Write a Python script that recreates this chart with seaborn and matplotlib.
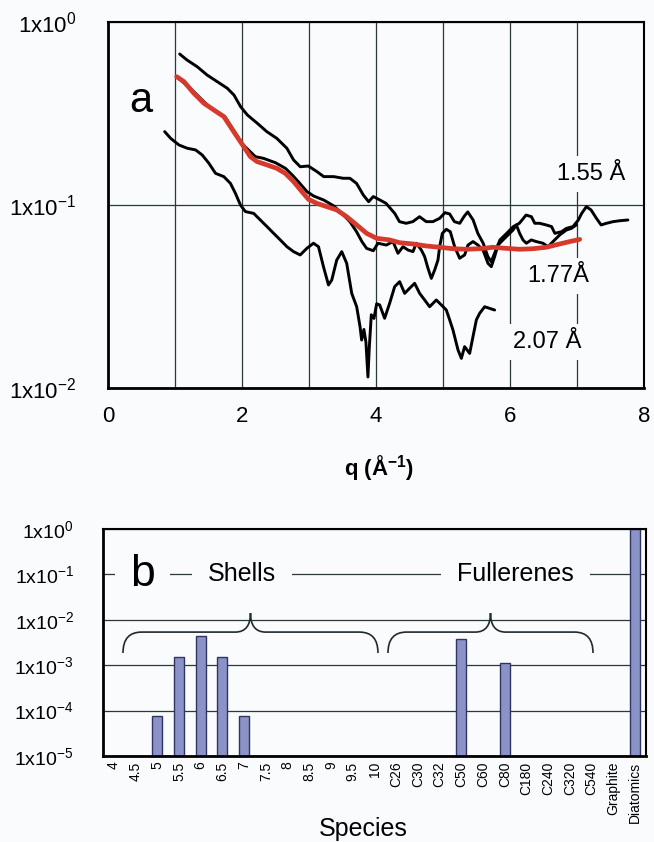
import numpy as np
import pandas as pd
import matplotlib
matplotlib.use("Agg")
import matplotlib.pyplot as plt
from matplotlib.path import Path
from matplotlib.patches import PathPatch
from matplotlib.ticker import NullLocator
import seaborn as sns

# ---- panel a: q (1/A) and log10 of intensity ----
q_155 = [1.07, 1.18, 1.33, 1.48, 1.63, 1.78, 1.88, 1.98, 2.08, 2.23, 2.37, 2.52, 2.67, 2.77, 2.87,
         2.99, 3.12, 3.22, 3.37, 3.51, 3.61, 3.71, 3.81, 3.89, 3.96,
         4.06, 4.15, 4.28, 4.35, 4.45, 4.55, 4.65, 4.75, 4.85, 4.95, 5.03, 5.10, 5.17, 5.25, 5.32,
         5.37, 5.45, 5.52, 5.60, 5.67, 5.72, 5.77, 5.85, 5.95, 6.05, 6.14, 6.24, 6.32, 6.37, 6.44,
         6.54, 6.62, 6.67, 6.77, 6.84, 6.94, 7.02, 7.07, 7.14, 7.21, 7.29, 7.36, 7.44, 7.54, 7.64, 7.76]
logI_155 = [-0.175, -0.208, -0.244, -0.290, -0.326, -0.362, -0.399, -0.463, -0.508, -0.554, -0.599,
            -0.636, -0.690, -0.754, -0.791, -0.787, -0.818, -0.845, -0.845, -0.854, -0.854, -0.882,
            -0.945, -0.982, -0.954,
            -0.973, -0.991, -1.046, -1.091, -1.100, -1.091, -1.064, -1.091, -1.091, -1.073, -1.042,
            -1.049, -1.091, -1.100, -1.060, -1.038, -1.082, -1.155, -1.209, -1.282, -1.310, -1.264,
            -1.191, -1.155, -1.118, -1.100, -1.055, -1.064, -1.100, -1.100, -1.109, -1.118, -1.155,
            -1.146, -1.128, -1.118, -1.082, -1.046, -1.009, -1.027, -1.073, -1.109, -1.100, -1.091,
            -1.086, -1.082]

q_177 = [1.03, 1.25, 1.50, 1.75, 2.00, 2.20, 2.32, 2.50, 2.65, 2.75, 2.84, 2.97, 3.07, 3.22, 3.37,
         3.49, 3.61, 3.71, 3.79, 3.86, 3.96, 4.03,
         4.154, 4.254, 4.328, 4.403, 4.478, 4.552, 4.602, 4.677, 4.726, 4.776, 4.826, 4.876, 4.925,
         4.950, 4.990, 5.050, 5.109, 5.174, 5.249, 5.323, 5.373, 5.448, 5.522, 5.597, 5.672, 5.721,
         5.771, 5.821, 5.896, 5.970, 6.045, 6.095, 6.144, 6.194, 6.244, 6.318, 6.393, 6.493, 6.567,
         6.642, 6.741, 6.841, 6.915, 6.990]
logI_177 = [-0.30, -0.37, -0.46, -0.52, -0.665, -0.736, -0.745, -0.769, -0.800, -0.836, -0.872,
            -0.927, -0.951, -0.973, -1.005, -1.046, -1.091, -1.146, -1.200, -1.237, -1.250, -1.209,
            -1.219, -1.200, -1.264, -1.228, -1.246, -1.255, -1.209, -1.246, -1.282, -1.346, -1.401,
            -1.355, -1.301, -1.228, -1.155, -1.133, -1.146, -1.228, -1.291, -1.273, -1.219, -1.200,
            -1.219, -1.246, -1.319, -1.337, -1.282, -1.219, -1.191, -1.164, -1.137, -1.109, -1.155,
            -1.191, -1.209, -1.191, -1.200, -1.209, -1.228, -1.200, -1.164, -1.137, -1.128, -1.109]

q_207 = [0.846, 0.936, 1.059, 1.183, 1.307, 1.407, 1.506, 1.605, 1.729, 1.828, 1.902, 1.977, 2.051,
         2.175, 2.274, 2.373, 2.473, 2.572, 2.671, 2.770, 2.869, 2.968, 3.067, 3.142, 3.216, 3.291,
         3.340, 3.414, 3.489, 3.563, 3.638, 3.712, 3.762, 3.786,
         3.82, 3.85, 3.88, 3.90, 3.93, 3.97, 4.01,
         4.055, 4.129, 4.204, 4.279, 4.353, 4.428, 4.502, 4.577, 4.652, 4.726, 4.801, 4.900, 4.975,
         5.050, 5.100, 5.149, 5.224, 5.274, 5.323, 5.398, 5.448, 5.498, 5.547, 5.622, 5.697, 5.771]
logI_207 = [-0.599, -0.636, -0.672, -0.690, -0.699, -0.727, -0.772, -0.827, -0.845, -0.882, -0.936,
            -1.000, -1.036, -1.046, -1.082, -1.118, -1.155, -1.191, -1.228, -1.255, -1.273, -1.237,
            -1.209, -1.228, -1.337, -1.437, -1.410, -1.301, -1.255, -1.319, -1.483, -1.556, -1.665,
            -1.738,
            -1.68, -1.75, -1.94, -1.78, -1.60, -1.62, -1.54,
            -1.546, -1.619, -1.537, -1.446, -1.419, -1.483, -1.455, -1.428, -1.483, -1.519, -1.556,
            -1.519, -1.546, -1.574, -1.628, -1.683, -1.792, -1.838, -1.774, -1.811, -1.719, -1.628,
            -1.592, -1.556, -1.565, -1.574]

q_fit = [1.025, 1.134, 1.283, 1.431, 1.580, 1.729, 1.828, 1.927, 2.026, 2.125, 2.225, 2.373, 2.522,
         2.646, 2.770, 2.894, 2.993, 3.117, 3.266, 3.414, 3.563, 3.712, 3.861, 4.009,
         4.204, 4.353, 4.552, 4.751, 4.950, 5.149, 5.348, 5.547, 5.746, 5.945, 6.144, 6.343, 6.542,
         6.741, 6.891, 7.040]
logI_fit = [-0.299, -0.326, -0.390, -0.444, -0.481, -0.517, -0.572, -0.627, -0.681, -0.736, -0.763,
            -0.781, -0.800, -0.827, -0.872, -0.927, -0.969, -0.991, -1.009, -1.027, -1.064, -1.109,
            -1.155, -1.182,
            -1.191, -1.206, -1.213, -1.224, -1.231, -1.239, -1.242, -1.239, -1.231, -1.237, -1.242,
            -1.239, -1.231, -1.213, -1.200, -1.188]

# ---- panel b: species abundance ----
species = ['4', '4.5', '5', '5.5', '6', '6.5', '7', '7.5', '8', '8.5', '9', '9.5', '10',
           'C26', 'C30', 'C32', 'C50', 'C60', 'C80', 'C180', 'C240', 'C320', 'C540',
           'Graphite', 'Diatomics']
nan = np.nan
abundance = [nan, nan, 7.6e-5, 1.55e-3, 4.3e-3, 1.55e-3, 7.6e-5, nan, nan, nan, nan, nan, nan,
             nan, nan, nan, 3.8e-3, nan, 1.12e-3, nan, nan, nan, nan,
             nan, 1.0]

sns.set_style("white")
plt.rcParams['font.family'] = ['Liberation Sans', 'DejaVu Sans']
plt.rcParams['mathtext.default'] = 'regular'
plt.rcParams['text.color'] = 'black'
plt.rcParams['axes.labelcolor'] = 'black'
plt.rcParams['xtick.color'] = 'black'
plt.rcParams['ytick.color'] = 'black'

bg = '#fafbfd'
grid_c = '#2a3838'
fig = plt.figure(figsize=(6.54, 8.42), dpi=100, facecolor=bg)
ax1 = fig.add_axes([0.1651, 0.5392, 0.8196, 0.4347], facecolor=bg)
ax2 = fig.add_axes([0.1575, 0.1021, 0.8303, 0.2696], facecolor=bg)

# panel a
for q, li in [(q_155, logI_155), (q_177, logI_177), (q_207, logI_207)]:
    sns.lineplot(x=q, y=10 ** np.array(li), color='black', lw=2.1, sort=False,
                 estimator=None, ax=ax1, zorder=4)
sns.lineplot(x=q_fit, y=10 ** np.array(logI_fit), color='#d63a2c', lw=3.4, sort=False,
             estimator=None, ax=ax1, zorder=5)

ax1.set_yscale('log')
ax1.set_xlim(0, 8)
ax1.set_ylim(1e-2, 1)
ax1.set_xticks([0, 2, 4, 6, 8])
ax1.set_xticks([1, 3, 5, 7], minor=True)
ax1.set_yticks([1e-2, 1e-1, 1])
ax1.set_yticklabels(['1x10$^{-2}$', '1x10$^{-1}$', '1x10$^{0}$'])
ax1.yaxis.set_minor_locator(NullLocator())
ax1.grid(True, which='both', axis='x', color=grid_c, lw=0.9)
ax1.grid(True, which='major', axis='y', color=grid_c, lw=0.9)
ax1.tick_params(axis='both', which='major', direction='inout', length=10, width=1.5,
                labelsize=16, colors='black')
ax1.tick_params(axis='x', which='minor', length=0)
ax1.tick_params(axis='y', pad=18)
ax1.tick_params(axis='x', pad=8)
ax1.set_xlabel('q (Å$^{-1}$)', fontsize=16, fontweight='bold')
ax1.xaxis.label.set_va('center')
ax1.xaxis.set_label_coords(0.506, -0.219)
ax1.set_ylabel('')
for side, lw in [('left', 2.0), ('bottom', 2.0), ('top', 1.5), ('right', 1.5)]:
    ax1.spines[side].set_color('black')
    ax1.spines[side].set_linewidth(lw)

ax1.text(0.49, 0.37, 'a', fontsize=30, ha='center', va='center')
box = dict(boxstyle='square,pad=0.3', fc=bg, ec='none')
ax1.text(7.21, 0.148, '1.55 Å', fontsize=17, ha='center', va='center', bbox=box, zorder=3)
ax1.text(6.72, 0.041, '1.77Å', fontsize=17, ha='center', va='center', bbox=box, zorder=3)
ax1.text(6.55, 0.0178, '2.07 Å', fontsize=17, ha='center', va='center', bbox=box, zorder=3)

# panel b
df = pd.DataFrame({'species': species, 'abundance': abundance})
sns.barplot(data=df, x='species', y='abundance', order=species, color='#8b92c8',
            edgecolor='#2f3560', linewidth=1, width=0.46, saturation=1, ax=ax2)
ax2.set_yscale('log')
ax2.set_ylim(1e-5, 1)
ax2.set_xlim(-0.5, len(species) - 0.5)
ax2.set_yticks([1e-5, 1e-4, 1e-3, 1e-2, 1e-1, 1])
ax2.set_yticklabels(['1x10$^{-5}$', '1x10$^{-4}$', '1x10$^{-3}$', '1x10$^{-2}$',
                     '1x10$^{-1}$', '1x10$^{0}$'])
ax2.yaxis.set_minor_locator(NullLocator())
ax2.set_xticks(np.arange(-0.5, len(species), 1))
ax2.set_xticklabels([])
ax2.set_xticks(np.arange(len(species)), minor=True)
ax2.set_xticklabels(species, minor=True, rotation=90, fontsize=10)
ax2.tick_params(axis='x', which='major', direction='out', length=5, width=1.5)
ax2.tick_params(axis='x', which='minor', length=0, pad=4)
ax2.tick_params(axis='y', which='major', direction='inout', length=14, width=1.5,
                labelsize=14, pad=14)
ax2.grid(True, which='major', axis='y', color=grid_c, lw=0.9)
ax2.set_ylabel('')
ax2.set_xlabel('Species', fontsize=18)
ax2.xaxis.label.set_va('center')
ax2.xaxis.set_label_coords(0.48, -0.322)
for side, lw in [('left', 2.0), ('bottom', 2.0), ('top', 1.5), ('right', 1.5)]:
    ax2.spines[side].set_color('black')
    ax2.spines[side].set_linewidth(lw)

ax2.text(1.3, 0.1, 'b', fontsize=32, ha='center', va='center',
         bbox=dict(boxstyle='square,pad=0.34', fc=bg, ec='none'), zorder=3)
ax2.text(5.88, 0.1, 'Shells', fontsize=18, ha='center', va='center',
         bbox=dict(boxstyle='square,pad=0.64', fc=bg, ec='none'), zorder=3)
ax2.text(18.5, 0.1, 'Fullerenes', fontsize=18, ha='center', va='center',
         bbox=dict(boxstyle='square,pad=0.64', fc=bg, ec='none'), zorder=3)


def brace(ax, x0, x1, y_end=0.454, y_sh=0.546, y_top=0.63, r=0.85, rp=0.7):
    xp = (x0 + x1) / 2
    verts = [(x0, y_end), (x0, y_sh), (x0 + r, y_sh), (xp - rp, y_sh), (xp, y_sh), (xp, y_top),
             (xp, y_sh), (xp + rp, y_sh), (x1 - r, y_sh), (x1, y_sh), (x1, y_end)]
    codes = [Path.MOVETO, Path.CURVE3, Path.CURVE3, Path.LINETO, Path.CURVE3, Path.CURVE3,
             Path.CURVE3, Path.CURVE3, Path.LINETO, Path.CURVE3, Path.CURVE3]
    ax.add_patch(PathPatch(Path(verts, codes), transform=ax.get_xaxis_transform(),
                           fill=False, lw=1.2, ec='#1f2a30', zorder=3))


brace(ax2, 0.42, 12.16)
brace(ax2, 12.62, 22.06)

fig.savefig('out.png', dpi=100, facecolor=bg)
